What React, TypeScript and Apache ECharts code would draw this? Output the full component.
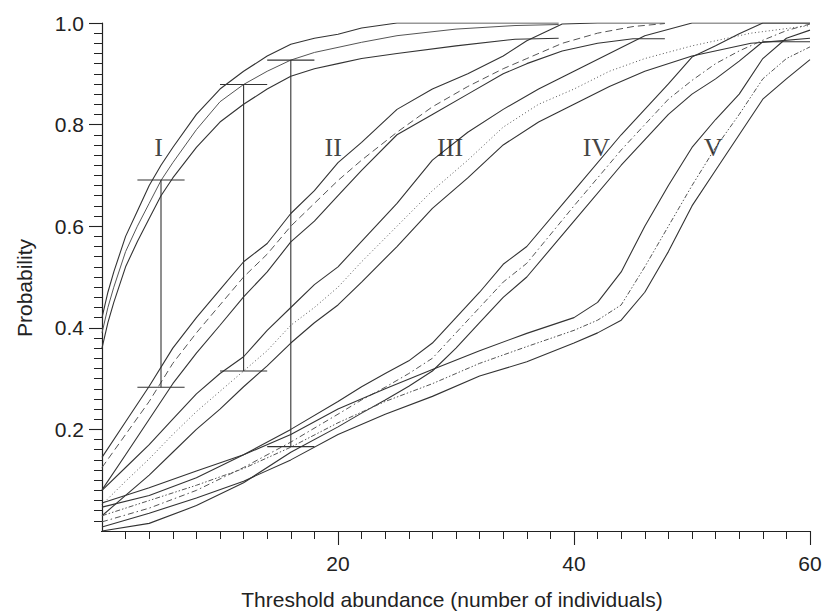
import React, { useEffect, useRef } from "react";
import * as echarts from "echarts";

// ---------- data ----------
const xI = [0, 0.5, 1, 2, 3, 4, 5, 6, 8, 10, 12, 14, 16, 18, 20, 22, 25, 30, 35, 38.7];
const upperI = [0.42, 0.47, 0.51, 0.58, 0.63, 0.68, 0.72, 0.755, 0.82, 0.87, 0.905, 0.935, 0.958, 0.97, 0.978, 0.99, 1.0, 1.0, 1.0, 1.0];
const meanI = [0.39, 0.44, 0.48, 0.55, 0.6, 0.645, 0.69, 0.725, 0.79, 0.845, 0.879, 0.905, 0.927, 0.942, 0.952, 0.962, 0.975, 0.988, 0.995, 0.997];
const lowerI = [0.36, 0.41, 0.45, 0.52, 0.57, 0.615, 0.66, 0.695, 0.755, 0.805, 0.84, 0.87, 0.895, 0.91, 0.92, 0.93, 0.94, 0.955, 0.968, 0.97];

const xII = [0, 2, 4, 6, 8, 10, 12, 14, 16, 18, 20, 22, 25, 28, 31, 34, 36, 39, 42, 45, 47.7];
const upperII = [0.145, 0.215, 0.285, 0.36, 0.42, 0.475, 0.53, 0.566, 0.625, 0.67, 0.725, 0.765, 0.83, 0.87, 0.9, 0.935, 0.965, 0.998, 1.0, 1.0, 1.0];
const meanII = [0.125, 0.19, 0.255, 0.33, 0.39, 0.445, 0.5, 0.545, 0.6, 0.645, 0.69, 0.73, 0.785, 0.835, 0.875, 0.91, 0.93, 0.96, 0.98, 0.993, 0.999];
const lowerII = [0.081, 0.15, 0.22, 0.29, 0.35, 0.405, 0.461, 0.51, 0.569, 0.61, 0.66, 0.71, 0.78, 0.82, 0.86, 0.9, 0.92, 0.945, 0.96, 0.969, 0.969];

const xIII = [0, 2, 4, 6, 8, 10, 12, 14, 16, 18, 20, 22, 25, 28, 31, 34, 37, 40, 43, 46, 50, 55, 60];
const upperIII = [0.08, 0.125, 0.17, 0.22, 0.27, 0.31, 0.343, 0.395, 0.44, 0.485, 0.52, 0.57, 0.645, 0.73, 0.785, 0.83, 0.87, 0.905, 0.94, 0.975, 1.0, 1.0, 1.0];
const meanIII = [0.052, 0.098, 0.142, 0.19, 0.235, 0.275, 0.315, 0.355, 0.405, 0.44, 0.48, 0.53, 0.6, 0.67, 0.73, 0.795, 0.84, 0.87, 0.905, 0.93, 0.955, 0.98, 0.995];
const lowerIII = [0.03, 0.07, 0.11, 0.155, 0.2, 0.24, 0.284, 0.325, 0.37, 0.41, 0.445, 0.49, 0.56, 0.635, 0.695, 0.76, 0.805, 0.84, 0.875, 0.905, 0.935, 0.96, 0.97];

const xIV = [0, 4, 8, 12, 16, 20, 22, 24, 26, 28, 30, 32, 34, 36, 40, 44, 48, 50, 52, 54, 56, 58, 60];
const upperIV = [0.047, 0.07, 0.105, 0.15, 0.2, 0.255, 0.284, 0.31, 0.335, 0.37, 0.42, 0.47, 0.525, 0.56, 0.67, 0.78, 0.88, 0.933, 0.955, 0.979, 1.0, 1.0, 1.0];
const meanIV = [0.018, 0.045, 0.08, 0.125, 0.175, 0.23, 0.258, 0.283, 0.31, 0.34, 0.39, 0.44, 0.49, 0.527, 0.64, 0.75, 0.85, 0.887, 0.92, 0.945, 0.966, 0.985, 0.998];
const lowerIV = [0.0, 0.015, 0.05, 0.095, 0.155, 0.205, 0.232, 0.258, 0.285, 0.315, 0.36, 0.41, 0.46, 0.5, 0.61, 0.72, 0.82, 0.86, 0.89, 0.925, 0.963, 0.963, 0.963];

const xV = [0, 4, 8, 12, 16, 20, 24, 28, 32, 36, 40, 42, 44, 46, 48, 50, 52, 54, 56, 58, 60];
const upperV = [0.055, 0.085, 0.118, 0.15, 0.19, 0.24, 0.28, 0.318, 0.355, 0.389, 0.42, 0.45, 0.51, 0.6, 0.68, 0.755, 0.81, 0.86, 0.93, 0.97, 0.986];
const meanV = [0.03, 0.06, 0.09, 0.123, 0.165, 0.213, 0.255, 0.29, 0.33, 0.363, 0.395, 0.415, 0.445, 0.52, 0.6, 0.68, 0.755, 0.82, 0.89, 0.93, 0.953];
const lowerV = [0.008, 0.035, 0.065, 0.098, 0.14, 0.19, 0.23, 0.265, 0.305, 0.333, 0.37, 0.39, 0.415, 0.47, 0.55, 0.64, 0.71, 0.78, 0.85, 0.89, 0.928];

const groupNames = ["I", "II", "III", "IV", "V"];
const labelX = [4.8, 19.6, 29.5, 41.9, 51.8];
const labelY = [0.755, 0.755, 0.755, 0.755, 0.755];

const barX = [5, 12, 16];
const barLow = [0.283, 0.315, 0.166];
const barHigh = [0.691, 0.879, 0.927];
const capHalf = 2;

const yTickLabels = [0.2, 0.4, 0.6, 0.8, 1.0];
const xTickLabels = [20, 40, 60];

// ---------- styles ----------
const INK = "#333";
const FONT = "'Liberation Sans', Arial, sans-serif";
const SERIF = "'Liberation Serif', 'Times New Roman', serif";
const meanDash: any[] = ["solid", [7, 4], [1, 2.5], [6, 3, 1.5, 3], [5, 2, 1.5, 2, 1.5, 2]];

const groups = [
  { x: xI, u: upperI, m: meanI, l: lowerI },
  { x: xII, u: upperII, m: meanII, l: lowerII },
  { x: xIII, u: upperIII, m: meanIII, l: lowerIII },
  { x: xIV, u: upperIV, m: meanIV, l: lowerIV },
  { x: xV, u: upperV, m: meanV, l: lowerV },
];

const pairs = (xs: number[], ys: number[]) => xs.map((x, i) => [x, ys[i]]);

function buildOption() {
  const series: any[] = [];
  groups.forEach((g, gi) => {
    const common = { type: "line", symbol: "none", silent: true, z: 3, emphasis: { disabled: true } };
    series.push({ ...common, name: groupNames[gi] + " upper", data: pairs(g.x, g.u), lineStyle: { color: INK, width: 1.1 } });
    series.push({ ...common, name: groupNames[gi] + " mean", data: pairs(g.x, g.m), lineStyle: { color: "#555", width: 1, type: meanDash[gi] } });
    series.push({ ...common, name: groupNames[gi] + " lower", data: pairs(g.x, g.l), lineStyle: { color: INK, width: 1.1 } });
  });

  series.push({
    type: "custom",
    name: "bars",
    silent: true,
    z: 4,
    data: barX.map((x, i) => [x, barLow[i], barHigh[i]]),
    renderItem: (params: any, api: any) => {
      const x = api.value(0);
      const lo = api.value(1);
      const hi = api.value(2);
      const pLo = api.coord([x, lo]);
      const pHi = api.coord([x, hi]);
      const pLoL = api.coord([x - capHalf, lo]);
      const pLoR = api.coord([x + capHalf, lo]);
      const pHiL = api.coord([x - capHalf, hi]);
      const pHiR = api.coord([x + capHalf, hi]);
      const st = { stroke: INK, lineWidth: 1.1 };
      return {
        type: "group",
        children: [
          { type: "line", shape: { x1: pLo[0], y1: pLo[1], x2: pHi[0], y2: pHi[1] }, style: st },
          { type: "line", shape: { x1: pLoL[0], y1: pLoL[1], x2: pLoR[0], y2: pLoR[1] }, style: st },
          { type: "line", shape: { x1: pHiL[0], y1: pHiL[1], x2: pHiR[0], y2: pHiR[1] }, style: st },
        ],
      };
    },
  });

  series.push({
    type: "scatter",
    name: "labels",
    silent: true,
    symbolSize: 1,
    itemStyle: { color: "rgba(0,0,0,0)" },
    z: 5,
    data: groupNames.map((n, i) => ({ name: n, value: [labelX[i], labelY[i]] })),
    label: {
      show: true,
      position: "inside",
      formatter: (p: any) => p.name,
      fontFamily: SERIF,
      fontSize: 26,
      color: "#111",
    },
  });

  return {
    animation: false,
    backgroundColor: "#fff",
    grid: { left: 102, right: 17, top: 23, bottom: 85, containLabel: false },
    xAxis: {
      type: "value",
      min: 0,
      max: 60,
      interval: 20,
      name: "Threshold abundance (number of individuals)",
      nameLocation: "middle",
      nameGap: 58,
      nameTextStyle: { fontFamily: FONT, fontSize: 21, color: "#222", padding: [0, 8, 0, 0] },
      axisLine: { show: true, onZero: false, lineStyle: { color: "#222", width: 1.2 } },
      axisTick: { show: true, length: 14, lineStyle: { color: "#222", width: 1.1 } },
      minorTick: { show: true, splitNumber: 10, length: 8, lineStyle: { color: "#222", width: 1 } },
      splitLine: { show: false },
      axisLabel: {
        margin: 22,
        fontFamily: FONT,
        fontSize: 21,
        color: "#222",
        formatter: (v: number) => (xTickLabels.includes(v) ? String(v) : ""),
      },
    },
    yAxis: {
      type: "value",
      min: 0,
      max: 1,
      interval: 0.2,
      axisLine: { show: true, onZero: false, lineStyle: { color: "#222", width: 1.2 } },
      axisTick: { show: true, length: 13, lineStyle: { color: "#222", width: 1.1 } },
      minorTick: { show: true, splitNumber: 10, length: 8, lineStyle: { color: "#222", width: 1 } },
      splitLine: { show: false },
      axisLabel: {
        margin: 18,
        fontFamily: FONT,
        fontSize: 21,
        color: "#222",
        formatter: (v: number) => {
          const hit = yTickLabels.find((t) => Math.abs(t - v) < 1e-6);
          return hit !== undefined ? hit.toFixed(1) : "";
        },
      },
    },
    graphic: [
      {
        type: "text",
        x: 24,
        y: 288,
        rotation: Math.PI / 2,
        style: {
          text: "Probability",
          fontFamily: FONT,
          fontSize: 21,
          fill: "#222",
          textAlign: "center",
          textVerticalAlign: "middle",
        },
      },
      // hide the ticks at the origin (the reference has none there)
      { type: "rect", z: 100, shape: { x: 84, y: 530, width: 17, height: 3 }, style: { fill: "#fff" } },
      { type: "rect", z: 100, shape: { x: 100, y: 532, width: 4, height: 16 }, style: { fill: "#fff" } },
    ],
    series,
  };
}

export default function App() {
  const ref = useRef<HTMLDivElement>(null);
  useEffect(() => {
    if (!ref.current) return;
    const chart = echarts.init(ref.current, undefined, { renderer: "svg" });
    chart.setOption(buildOption() as any);
    return () => chart.dispose();
  }, []);
  return (
    <div
      ref={ref}
      style={{ position: "absolute", left: 0, top: 0, width: 827, height: 616, background: "#fff" }}
    />
  );
}
